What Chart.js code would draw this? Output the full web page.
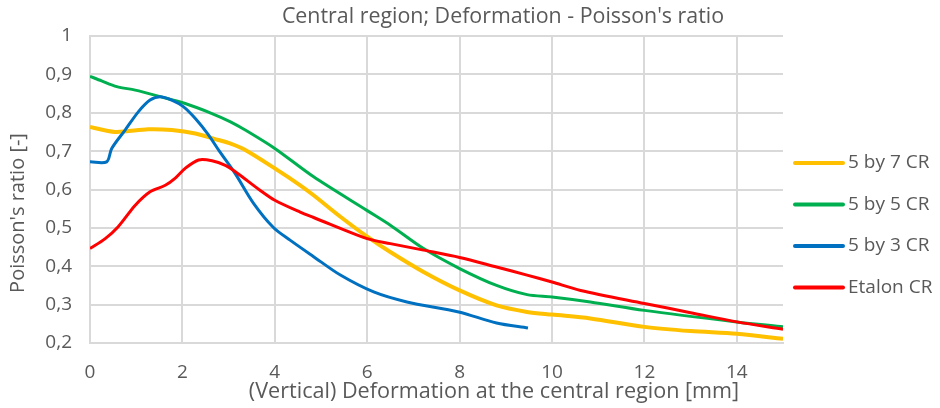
<!DOCTYPE html>
<html>
<head>
<meta charset="utf-8">
<script src="https://cdn.jsdelivr.net/npm/chart.js@4"></script>
<style>
  html, body { margin: 0; padding: 0; background: #fff; }
  #wrap { width: 940px; height: 408px; }
</style>
</head>
<body>
<div id="wrap"><canvas id="myChart" width="940" height="408"></canvas></div>
<script>
// values (x = deformation [mm], y = Poisson's ratio)
const labels = ["5 by 7 CR", "5 by 5 CR", "5 by 3 CR", "Etalon CR"];
const colors = ["#FFC000", "#00B050", "#0070C0", "#FF0000"];

const x5by7 = [0, 0.54, 1.26, 1.77, 2.28, 2.78, 3.03, 3.36, 4, 4.55, 4.84, 5.42, 6, 6.5, 7.22, 8, 8.8, 9.46, 10, 10.83, 12, 13, 14, 15];
const y5by7 = [0.763, 0.75, 0.757, 0.755, 0.746, 0.729, 0.72, 0.703, 0.655, 0.611, 0.585, 0.529, 0.477, 0.437, 0.385, 0.337, 0.298, 0.281, 0.274, 0.264, 0.242, 0.231, 0.224, 0.211];

const x5by5 = [0, 0.25, 0.58, 0.98, 1.52, 2.06, 2.64, 3.03, 3.36, 4, 4.84, 6, 6.5, 7.22, 8, 8.8, 9.46, 10, 10.83, 12, 14, 15];
const y5by5 = [0.895, 0.883, 0.868, 0.859, 0.842, 0.824, 0.798, 0.777, 0.755, 0.707, 0.633, 0.545, 0.507, 0.446, 0.394, 0.35, 0.326, 0.32, 0.307, 0.285, 0.255, 0.242];

const x5by3 = [0, 0.36, 0.47, 0.76, 1.05, 1.3, 1.52, 1.77, 2.02, 2.28, 2.56, 2.8, 3.14, 3.54, 3.97, 4.33, 4.84, 5.42, 6.14, 6.86, 7.98, 8.8, 9.48];
const y5by3 = [0.672, 0.672, 0.707, 0.755, 0.803, 0.833, 0.842, 0.833, 0.816, 0.785, 0.743, 0.7, 0.642, 0.564, 0.501, 0.468, 0.425, 0.377, 0.333, 0.307, 0.281, 0.252, 0.239];

const xEtalon = [0, 0.33, 0.61, 0.98, 1.3, 1.63, 1.84, 2.06, 2.35, 2.64, 2.93, 3.14, 3.68, 4, 4.55, 4.84, 6, 6.5, 7.22, 8, 8.8, 9.46, 10, 10.62, 12, 13, 14, 15];
const yEtalon = [0.446, 0.472, 0.503, 0.559, 0.594, 0.611, 0.629, 0.655, 0.677, 0.675, 0.663, 0.647, 0.598, 0.572, 0.541, 0.527, 0.472, 0.459, 0.442, 0.423, 0.398, 0.377, 0.359, 0.337, 0.303, 0.279, 0.255, 0.236];

const xs = [x5by7, x5by5, x5by3, xEtalon];
const ys = [y5by7, y5by5, y5by3, yEtalon];

const chartTitle = "Central region; Deformation - Poisson's ratio";
const xTitle = "(Vertical) Deformation at the central region [mm]";
const yTitle = "Poisson's ratio [-]";

const FONT = "'Open Sans', sans-serif";
const GREY = "#595959";

const toPoints = (xv, yv) => xv.map((x, i) => ({ x, y: yv[i] }));

const datasets = labels.map((label, i) => ({
  label,
  data: toPoints(xs[i], ys[i]),
  borderColor: colors[i],
  backgroundColor: colors[i],
  borderWidth: i === 0 ? 4 : 3,
  pointRadius: 0,
  showLine: true,
  tension: 0.3,
  order: labels.length - i,
}));

// title, axis titles and legend, placed like the original
const textPlugin = {
  id: "texts",
  afterDraw(chart) {
    const ctx = chart.ctx;
    const area = chart.chartArea;
    ctx.save();
    ctx.fillStyle = GREY;
    ctx.textBaseline = "middle";

    ctx.font = "21.4px " + FONT;
    ctx.textAlign = "center";
    ctx.fillText(chartTitle, 503, 17);

    ctx.font = "21.6px " + FONT;
    ctx.fillText(xTitle, 494, 392);

    ctx.font = "20px " + FONT;
    ctx.save();
    ctx.translate(18, 213);
    ctx.rotate(-Math.PI / 2);
    ctx.fillText(yTitle, 0, 0);
    ctx.restore();

    ctx.font = "19px " + FONT;
    ctx.textAlign = "left";
    chart.data.datasets.forEach((ds, i) => {
      const y = 163 + i * 41.5;
      ctx.strokeStyle = ds.borderColor;
      ctx.lineWidth = 4;
      ctx.lineCap = "round";
      ctx.beginPath();
      ctx.moveTo(area.right + 12, y);
      ctx.lineTo(area.right + 60, y);
      ctx.stroke();
      ctx.fillText(ds.label, area.right + 65, y);
    });
    ctx.restore();
  },
};

const chart = document.getElementById("myChart");
window.myChart = new Chart(chart, {
  type: "scatter",
  data: { datasets },
  options: {
    responsive: false,
    animation: false,
    layout: { padding: { top: 36, right: 157, left: 0, bottom: 0 } },
    plugins: { legend: { display: false }, title: { display: false }, tooltip: { enabled: false } },
    scales: {
      x: {
        type: "linear",
        min: 0,
        max: 15,
        ticks: {
          stepSize: 2,
          includeBounds: false,
          color: GREY,
          font: { family: FONT, size: 19 },
          padding: 18,
          maxRotation: 0,
        },
        grid: { color: "#d9d9d9", lineWidth: 2, drawTicks: false },
        border: { color: "#d9d9d9", width: 2 },
        afterFit(s) { s.height = 408 - 343; },
      },
      y: {
        type: "linear",
        min: 0.2,
        max: 1,
        ticks: {
          stepSize: 0.1,
          color: GREY,
          font: { family: FONT, size: 19 },
          padding: 18,
          callback: (v) => (Math.round(v * 10) / 10).toString().replace(".", ","),
        },
        grid: { color: "#d9d9d9", lineWidth: 2, drawTicks: false },
        border: { color: "#d9d9d9", width: 2 },
        afterFit(s) { s.width = 90; },
      },
    },
  },
  plugins: [textPlugin],
});
</script>
</body>
</html>
